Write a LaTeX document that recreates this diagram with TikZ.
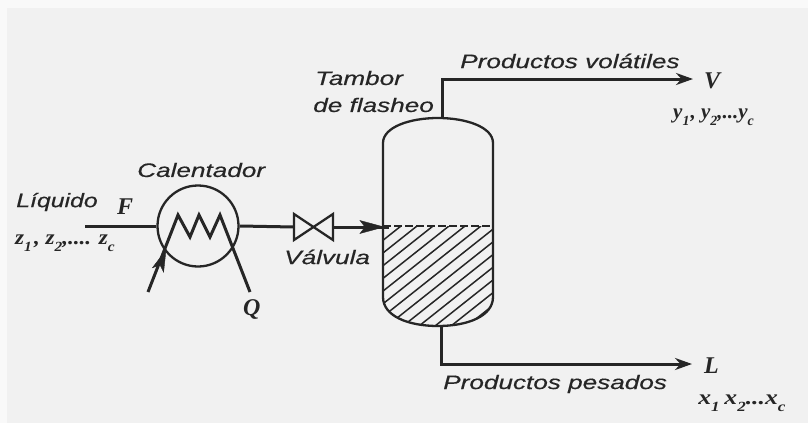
\documentclass[tikz,border=0pt]{standalone}
\usepackage{fontspec}
\setmainfont{Liberation Sans}[ItalicFeatures={FakeBold=0.35}]
\newfontfamily\serifit{Liberation Serif}
\usetikzlibrary{arrows.meta}
\definecolor{bgc}{HTML}{F1F1F1}
\definecolor{ink}{HTML}{262626}
\newcommand{\sbs}[1]{\raisebox{-7pt}{\fontsize{14}{14}\selectfont #1}}
\tikzset{
  pipe/.style={draw=ink,line width=3pt},
  shell/.style={draw=ink,line width=2.3pt},
  flow/.style={pipe,-{Stealth[length=17pt,width=12pt]}},
  lbl/.style={inner sep=0pt,text=ink,font=\fontsize{19.5}{21}\selectfont\itshape,xscale=1.34,align=left},
  sym/.style={inner sep=0pt,text=ink,font=\fontsize{24}{26}\selectfont\serifit\itshape\bfseries},
  comp/.style={inner sep=0pt,text=ink,font=\fontsize{21}{22}\selectfont\serifit\itshape\bfseries},
  hatch/.style={draw=ink,line width=1.5pt},
  pnt/.style={inner sep=0pt,minimum size=0pt}
}
\begin{document}
\begin{tikzpicture}[x=1pt,y=-1pt]
\useasboundingbox (0,0) rectangle (808,423);
\fill[white!60!bgc] (0,0) rectangle (808,423);
\fill[bgc] (7,8) rectangle (808,423);
% drum liquid hatching
\begin{scope}
\clip (383,226) -- (493,226) -- (493,297) .. controls (493,316) and (468,326) .. (438,326) .. controls (408,326) and (383,316) .. (383,297) -- cycle;
\foreach \k in {0,...,14}{
  \draw[hatch] ({383+\k*16-108},{326}) -- ({383+\k*16+18},{226});
}
\end{scope}
\draw[ink,line width=1.8pt,dash pattern=on 8pt off 3pt] (383,226) -- (493,226);
% drum
\node[pnt] (dtop) at (442,118) {};
\node[pnt] (dbot) at (441,326) {};
\draw[shell] (383,226) -- (383,143) .. controls (383,127) and (410,118) .. (438,118) .. controls (466,118) and (493,127) .. (493,143) -- (493,297) .. controls (493,316) and (468,326) .. (438,326) .. controls (408,326) and (383,316) .. (383,297) -- cycle;
% heater
\node[circle,draw=ink,line width=2.3pt,minimum size=81pt,inner sep=0pt] (heater) at (198,226) {};
\coordinate (feed) at (85,226);
\draw[pipe] (feed) -- (heater.west);
% valve
\coordinate (valveL) at (294,227);
\coordinate (valveR) at (333,227);
\coordinate (drumIn) at (389,227);
\draw[shell,line join=miter] (294,214) -- (333,240) -- (333,214) -- (294,240) -- cycle;
\draw[pipe] (heater.east) -- (valveL);
\draw[pipe] (valveR) -- (drumIn);
\draw[ink,fill=ink] (384,227) -- (360,220.5) -- (365,227) -- (360,233.5) -- cycle;
% coil
\coordinate (coilIn) at (148,292);
\coordinate (coilOut) at (250,292);
\draw[pipe,line join=miter] (coilIn) -- (178,215) -- (190,237) -- (199,215) -- (210,237) -- (220,215) -- (coilOut);
\draw[ink,fill=ink] (166,250) -- (152.4,267.8) -- (160,265) -- (163.6,272.2) -- cycle;
% outlets
\coordinate (vEnd) at (693,79);
\coordinate (lEnd) at (692,364);
\draw[flow] (dtop) -- (442,79) -- (vEnd);
\draw[flow] (dbot) -- (441,364) -- (lEnd);
% labels
\node[lbl,xscale=0.95,anchor=west] (t1) at (16,202) {Líquido};
\node[sym,anchor=west] (tF) at (117,207) {F};
\node[lbl,anchor=west] (t2) at (137,170) {Calentador};
\node[lbl,anchor=west] (t3) at (284,257) {Válvula};
\node[lbl,anchor=west] (t4) at (315,78) {Tambor};
\node[lbl,anchor=west] (t5) at (313,105) {de flasheo};
\node[lbl,anchor=west] (t6) at (460,61) {Productos volátiles};
\node[lbl,anchor=west] (t7) at (443,384) {Productos pesados};
\node[sym,anchor=west] (tV) at (704,81) {V};
\node[sym,anchor=west] (tL) at (704,366) {L};
\node[sym,anchor=west] (tQ) at (243,309) {Q};
\node[comp,anchor=west,xscale=1.1] (z) at (15,243) {z\sbs{1}\kern2pt, z\sbs{2},.... z\sbs{c}};
\node[comp,anchor=west] (v2) at (673,117) {y\sbs{1}\kern1pt, y\sbs{2},...y\sbs{c}};
\node[comp,anchor=west,xscale=1.22] (v3) at (698,403) {x\sbs{1}\kern4pt x\sbs{2}...x\sbs{c}};
\end{tikzpicture}
\end{document}
